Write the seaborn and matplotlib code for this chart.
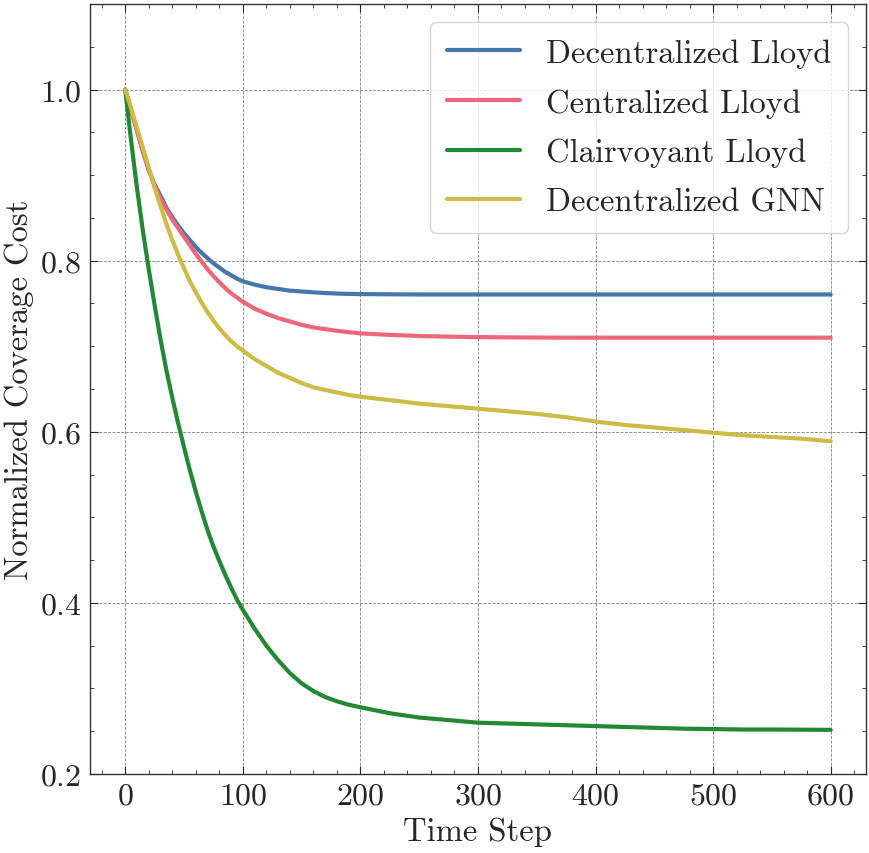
import pandas as pd
import matplotlib
matplotlib.use("Agg")
import matplotlib.pyplot as plt
from matplotlib.ticker import MultipleLocator
import seaborn as sns

# values
time_steps = [0, 5, 10, 15, 20, 25, 30, 35, 40, 45, 50, 55, 60, 65, 70, 75, 80, 85, 90, 95, 100,
              110, 120, 130, 140, 150, 160, 170, 180, 190, 200,
              225, 250, 275, 300, 325, 350, 375, 400, 425, 450, 475, 500, 525, 550, 575, 600]
decentralized_lloyd = [1.000, 0.976, 0.952, 0.928, 0.906, 0.889, 0.876, 0.862, 0.851, 0.841,
                       0.832, 0.824, 0.816, 0.809, 0.803, 0.797, 0.792, 0.787, 0.783, 0.779, 0.776,
                       0.772, 0.769, 0.767, 0.765, 0.764, 0.763, 0.7622, 0.7616, 0.7612, 0.761,
                       0.7607, 0.7605, 0.7605, 0.7605, 0.7605, 0.7605, 0.7605, 0.7605,
                       0.7605, 0.7605, 0.7605, 0.7605, 0.7605, 0.7605, 0.7605, 0.7605]
centralized_lloyd = [1.000, 0.976, 0.952, 0.928, 0.906, 0.888, 0.873, 0.860, 0.848, 0.838,
                     0.828, 0.818, 0.808, 0.799, 0.790, 0.782, 0.775, 0.768, 0.762, 0.757, 0.752,
                     0.744, 0.738, 0.733, 0.729, 0.725, 0.722, 0.720, 0.718, 0.7165, 0.715,
                     0.7133, 0.712, 0.7112, 0.7107, 0.7104, 0.7102, 0.710, 0.710,
                     0.710, 0.710, 0.710, 0.710, 0.710, 0.710, 0.710, 0.710]
clairvoyant_lloyd = [1.000, 0.940, 0.885, 0.835, 0.790, 0.748, 0.708, 0.672, 0.640, 0.610,
                     0.582, 0.555, 0.530, 0.507, 0.485, 0.466, 0.449, 0.433, 0.418, 0.404, 0.392,
                     0.370, 0.350, 0.333, 0.318, 0.306, 0.297, 0.290, 0.285, 0.281, 0.278,
                     0.271, 0.266, 0.263, 0.260, 0.259, 0.258, 0.257, 0.256,
                     0.255, 0.254, 0.253, 0.2525, 0.252, 0.252, 0.2518, 0.2516]
decentralized_gnn = [1.000, 0.978, 0.955, 0.932, 0.909, 0.885, 0.864, 0.843, 0.824, 0.807,
                     0.791, 0.776, 0.763, 0.751, 0.740, 0.730, 0.721, 0.713, 0.706, 0.700, 0.695,
                     0.685, 0.677, 0.669, 0.663, 0.657, 0.652, 0.649, 0.646, 0.643, 0.641,
                     0.637, 0.633, 0.630, 0.627, 0.624, 0.621, 0.617, 0.612,
                     0.608, 0.605, 0.602, 0.599, 0.596, 0.594, 0.592, 0.589]

labels = ["Decentralized Lloyd", "Centralized Lloyd", "Clairvoyant Lloyd", "Decentralized GNN"]
colors = ["#4477AA", "#EE6677", "#228833", "#CCBB44"]

rows = []
for name, vals in zip(labels, [decentralized_lloyd, centralized_lloyd,
                               clairvoyant_lloyd, decentralized_gnn]):
    for t, v in zip(time_steps, vals):
        rows.append({"Time Step": t, "Cost": v, "Method": name})
df = pd.DataFrame(rows)

sns.set_style("ticks")
plt.rcParams['font.family'] = ['cmr10', 'DejaVu Serif']
plt.rcParams['mathtext.fontset'] = 'cm'
plt.rcParams['axes.formatter.use_mathtext'] = True
plt.rcParams['font.size'] = 23
plt.rcParams['xtick.direction'] = 'in'
plt.rcParams['ytick.direction'] = 'in'
plt.rcParams['xtick.top'] = True
plt.rcParams['ytick.right'] = True
plt.rcParams['xtick.minor.visible'] = True
plt.rcParams['ytick.minor.visible'] = True

fig, ax = plt.subplots(figsize=(8.7, 8.54), dpi=100)
fig.subplots_adjust(left=0.1034, right=0.9954, bottom=0.0925, top=0.9941)

sns.lineplot(data=df, x="Time Step", y="Cost", hue="Method", hue_order=labels,
             palette=dict(zip(labels, colors)), linewidth=3, ax=ax)

ax.set_xlim(-30, 630)
ax.set_ylim(0.2, 1.1)
ax.xaxis.set_major_locator(MultipleLocator(100))
ax.xaxis.set_minor_locator(MultipleLocator(20))
ax.yaxis.set_major_locator(MultipleLocator(0.2))
ax.yaxis.set_minor_locator(MultipleLocator(0.05))
ax.tick_params(which='major', length=6, width=0.8, labelsize=23, pad=6)
ax.tick_params(which='minor', length=3, width=0.6)
for s in ax.spines.values():
    s.set_linewidth(1.0)
    s.set_color('#333333')
ax.grid(True, which='major', linestyle='--', color='k', alpha=0.5, linewidth=0.6)

ax.set_xlabel("Time Step", fontsize=23.5, labelpad=5)
ax.set_ylabel("Normalized Coverage Cost", fontsize=23.5, labelpad=4)

leg = ax.legend(loc='upper right', fontsize=23.5, handlelength=2.25, framealpha=0.8,
                edgecolor='#cccccc', fancybox=True, labelspacing=0.62, borderpad=0.5,
                borderaxespad=0.55)
leg.set_title(None)

fig.savefig("out.png", dpi=100)
